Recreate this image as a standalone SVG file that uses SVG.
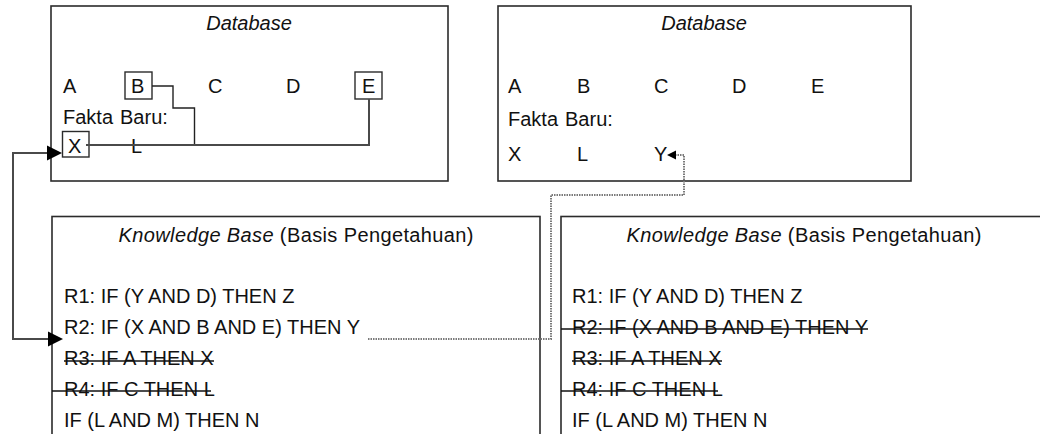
<svg xmlns="http://www.w3.org/2000/svg" width="1040" height="434" viewBox="0 0 1040 434">
  <style>
    .frame { fill: #ffffff; stroke: #2b2b2b; stroke-width: 1.6; }
    .tag { fill: none; stroke: #2b2b2b; stroke-width: 1.4; }
    .t { font-family: "Liberation Sans", Arial, sans-serif; font-size: 20px; fill: #111111; }
    .i { font-style: italic; }
    .mid { text-anchor: middle; }
    .wire { fill: none; stroke: #4a4a4a; stroke-width: 2; }
    .thin { fill: none; stroke: #222222; stroke-width: 1.4; }
    .dots { fill: none; stroke: #7a7a7a; stroke-width: 2; stroke-dasharray: 1.5 1; }
    .strike { stroke: #111111; stroke-width: 1.6; }
    .head { fill: #000000; }
  </style>

  <rect width="1040" height="434" fill="#ffffff"/>

  <!-- database before inference -->
  <g id="db-before">
    <rect class="frame" x="51" y="6" width="397" height="175"/>
    <text class="t i mid" x="249" y="30">Database</text>
    <text class="t" x="63" y="93">A</text>
    <rect class="tag" x="125" y="72" width="27" height="27"/>
    <text class="t" x="131" y="93">B</text>
    <text class="t" x="208" y="93">C</text>
    <text class="t" x="286" y="93">D</text>
    <rect class="tag" x="355" y="72" width="27" height="27"/>
    <text class="t" x="362" y="93">E</text>
    <text class="t" x="63" y="124">Fakta<tspan dx="7">Baru:</tspan></text>
    <rect class="tag" x="62.5" y="131.5" width="26.5" height="25.5"/>
    <text class="t" x="68" y="153">X</text>
    <text class="t" x="131" y="153">L</text>
  </g>

  <!-- database after inference -->
  <g id="db-after">
    <rect class="frame" x="498" y="6" width="413" height="175"/>
    <text class="t i mid" x="704" y="30">Database</text>
    <text class="t" x="508" y="93">A</text>
    <text class="t" x="577" y="93">B</text>
    <text class="t" x="654" y="93">C</text>
    <text class="t" x="732" y="93">D</text>
    <text class="t" x="811" y="93">E</text>
    <text class="t" x="508" y="126">Fakta<tspan dx="7">Baru:</tspan></text>
    <text class="t" x="508" y="161">X</text>
    <text class="t" x="577" y="161">L</text>
    <text class="t" x="654" y="161">Y</text>
  </g>

  <!-- knowledge base before inference -->
  <g id="kb-before">
    <rect class="frame" x="52" y="216.5" width="488" height="240"/>
    <text class="t mid" x="296" y="242" textLength="355"><tspan class="i">Knowledge Base</tspan> (Basis Pengetahuan)</text>
    <text class="t" x="64" y="303">R1: IF (Y AND D) THEN Z</text>
    <text class="t" x="64" y="334">R2: IF (X AND B AND E) THEN Y</text>
    <text class="t" x="64" y="365">R3: IF A THEN X</text>
    <line class="strike" x1="64" y1="361" x2="214" y2="361"/>
    <text class="t" x="64" y="396">R4: IF C THEN L</text>
    <line class="strike" x1="52" y1="391" x2="211" y2="391"/>
    <text class="t" x="64" y="427">IF (L AND M) THEN N</text>
  </g>

  <!-- knowledge base after inference -->
  <g id="kb-after">
    <rect class="frame" x="561" y="216.5" width="500" height="240"/>
    <text class="t mid" x="804" y="242" textLength="355"><tspan class="i">Knowledge Base</tspan> (Basis Pengetahuan)</text>
    <text class="t" x="572" y="303">R1: IF (Y AND D) THEN Z</text>
    <text class="t" x="572" y="334">R2: IF (X AND B AND E) THEN Y</text>
    <line class="strike" x1="561" y1="329" x2="868" y2="329"/>
    <text class="t" x="572" y="365">R3: IF A THEN X</text>
    <line class="strike" x1="572" y1="361" x2="722" y2="361"/>
    <text class="t" x="572" y="396">R4: IF C THEN L</text>
    <line class="strike" x1="561" y1="391" x2="718" y2="391"/>
    <text class="t" x="572" y="427">IF (L AND M) THEN N</text>
  </g>

  <!-- connectors -->
  <g id="connectors">
    <!-- B and E combine into X -->
    <polyline class="thin" points="152,86 173,86 173,108 194.5,108 194.5,145"/>
    <polyline class="wire" points="86,145 369,145 369,99"/>
    <!-- X feeds rule R2 -->
    <polyline class="wire" points="49,339 13,339 13,153 48,153"/>
    <polygon class="head" points="62,153 47,145.5 47,160.5"/>
    <polygon class="head" points="63,339 48,331.5 48,346.5"/>
    <!-- R2 fires and adds Y -->
    <polyline class="dots" points="368,339 551,339 551,195 684,195 684,155 674,155"/>
    <polygon class="head" points="667,155 676,150.5 676,159.5"/>
  </g>
</svg>
